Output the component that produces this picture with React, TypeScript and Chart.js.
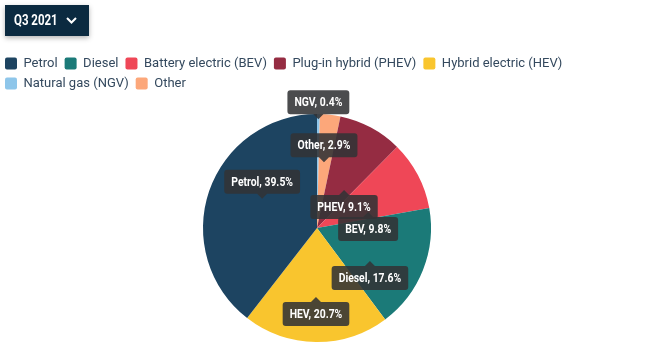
import React, { useEffect, useRef } from "react";
import { Chart, registerables } from "chart.js";

Chart.register(...registerables);

// ---- data ----
const PERIOD = "Q3 2021";
const CATEGORIES = [
  "Petrol",
  "Diesel",
  "Battery electric (BEV)",
  "Plug-in hybrid (PHEV)",
  "Hybrid electric (HEV)",
  "Natural gas (NGV)",
  "Other",
];
const SHORT_LABELS = ["Petrol", "Diesel", "BEV", "PHEV", "HEV", "NGV", "Other"];
const SHARES = [39.5, 17.6, 9.8, 9.1, 20.7, 0.4, 2.9];

// ---- styles ----
const COLORS = ["#1d4461", "#1b7a78", "#ef4757", "#952c42", "#f9c52e", "#8ec6ea", "#fca77a"];
// per-category label placement: angular nudge (deg), radius fraction, caret side
const LABEL_LAYOUT = [
  { shift: 9.1, r: 0.545, caret: "down" },
  { shift: 10.3, r: 0.547, caret: "up" },
  { shift: 10.3, r: 0.47, caret: "up" },
  { shift: 7.1, r: 0.41, caret: "up" },
  { shift: 0.3, r: 0.605, caret: "up" },
  { shift: 0, r: 0.955, caret: "down" },
  { shift: -0.6, r: 0.58, caret: "down" },
];

// slices are drawn from smallest to largest clockwise from the top
const ORDER = SHARES.map((_, i) => i).sort((a, b) => SHARES[a] - SHARES[b]);

const labelPlugin = {
  id: "sliceLabels",
  afterDatasetsDraw(chart: any) {
    const ctx = chart.ctx as CanvasRenderingContext2D;
    const meta = chart.getDatasetMeta(0);
    const total = SHARES.reduce((s, v) => s + v, 0);
    const SX = 0.8;
    const PADX = 7;
    const H = 24;
    const CARET = 5;
    ctx.save();
    ctx.font = "bold 13px Roboto";
    for (let k = 0; k < CATEGORIES.length; k++) {
      const di = ORDER.indexOf(k);
      const arc = meta.data[di];
      if (!arc) continue;
      const { x, y, startAngle, endAngle, outerRadius } = arc.getProps(
        ["x", "y", "startAngle", "endAngle", "outerRadius"],
        true
      );
      const lay = LABEL_LAYOUT[k];
      const mid = (startAngle + endAngle) / 2 + (lay.shift * Math.PI) / 180;
      const tx = x + Math.cos(mid) * lay.r * outerRadius;
      const ty = y + Math.sin(mid) * lay.r * outerRadius;
      const text = `${SHORT_LABELS[k]}, ${((SHARES[k] / total) * 100).toFixed(1)}%`;
      const w = ctx.measureText(text).width * SX + PADX * 2;
      const left = tx - w / 2;
      let top: number;
      ctx.beginPath();
      if (lay.caret === "down") {
        top = ty - CARET - H;
        ctx.roundRect(left, top, w, H, 3);
        ctx.moveTo(tx - CARET, top + H);
        ctx.lineTo(tx, ty);
        ctx.lineTo(tx + CARET, top + H);
        ctx.closePath();
      } else {
        top = ty + CARET;
        ctx.roundRect(left, top, w, H, 3);
        ctx.moveTo(tx - CARET, top);
        ctx.lineTo(tx, ty);
        ctx.lineTo(tx + CARET, top);
        ctx.closePath();
      }
      ctx.fillStyle = "rgba(50,51,53,0.88)";
      ctx.fill();
      ctx.save();
      ctx.translate(tx, top + H / 2 + 0.5);
      ctx.scale(SX, 1);
      ctx.fillStyle = "#ffffff";
      ctx.textAlign = "center";
      ctx.textBaseline = "middle";
      ctx.fillText(text, 0, 0);
      ctx.restore();
    }
    ctx.restore();
  },
};

export default function App() {
  const ref = useRef<HTMLCanvasElement | null>(null);

  useEffect(() => {
    if (!ref.current) return;
    Chart.defaults.font.family = "Roboto";
    const chart = new Chart(ref.current, {
      type: "pie",
      data: {
        labels: ORDER.map((i) => CATEGORIES[i]),
        datasets: [
          {
            data: ORDER.map((i) => SHARES[i]),
            backgroundColor: ORDER.map((i) => COLORS[i]),
            borderWidth: 0,
            radius: 114,
          } as any,
        ],
      },
      options: {
        responsive: false,
        animation: false,
        events: [],
        devicePixelRatio: 1,
        layout: { padding: { top: 50, bottom: 7, left: 0, right: 9 } },
        plugins: {
          tooltip: { enabled: false },
          legend: {
            position: "top",
            align: "start",
            labels: {
              boxWidth: 12,
              boxHeight: 12,
              padding: 7,
              useBorderRadius: true,
              borderRadius: 2,
              color: "#34495e",
              font: { family: "Roboto", size: 13 },
              sort: (a: any, b: any) => ORDER[a.index] - ORDER[b.index],
            },
          },
        },
      },
      plugins: [labelPlugin],
    });
    return () => chart.destroy();
  }, []);

  return (
    <div style={{ position: "fixed", left: 0, top: 0, width: 645, height: 363, background: "#fff", overflow: "hidden" }}>
      <canvas ref={ref} width={647} height={363} style={{ position: "absolute", left: -2, top: 0 }} />
      <div
        style={{
          position: "absolute",
          left: 5,
          top: 5,
          width: 84,
          height: 31,
          background: "#0b2a40",
          boxShadow: "0 2px 5px rgba(0,0,0,0.3)",
          zIndex: 2,
        }}
      >
        <span
          style={{
            position: "absolute",
            left: 9,
            top: 7,
            color: "#ffffff",
            font: "bold 14px Roboto",
            lineHeight: "17px",
            display: "inline-block",
            whiteSpace: "nowrap",
            transform: "scaleX(0.82)",
            transformOrigin: "left center",
          }}
        >
          {PERIOD}
        </span>
        <svg style={{ position: "absolute", left: 61, top: 11 }} width="12" height="9">
          <polyline points="1,2 5.5,6.5 10,2" fill="none" stroke="#ffffff" strokeWidth="2" />
        </svg>
      </div>
    </div>
  );
}
